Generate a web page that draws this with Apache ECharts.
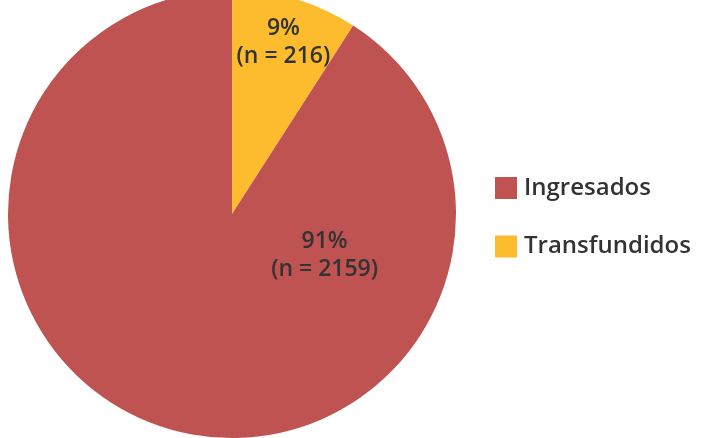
<!DOCTYPE html>
<html><head><meta charset="utf-8">
<script src="https://cdn.jsdelivr.net/npm/echarts@6/dist/echarts.min.js"></script>
<style>html,body{margin:0;padding:0;background:#fff}#c{width:702px;height:438px}</style>
</head><body><div id="c"></div>
<script>
const categories = ['Transfundidos', 'Ingresados'];
const counts = [216, 2159];
const percents = ['9%', '91%'];
const legendOrder = ['Ingresados', 'Transfundidos'];
const colors = ['#FDBC2E', '#BF5352'];

const chart = echarts.init(document.getElementById('c'));
const font = '"Open Sans", sans-serif';
const labelShift = [[19, -61], [125, -69]];
chart.setOption({
  animation: false,
  legend: {
    data: legendOrder,
    orient: 'vertical',
    left: 490, top: 171,
    itemWidth: 22, itemHeight: 22, itemGap: 34.5,
    icon: 'rect',
    textStyle: { fontSize: 24, lineHeight: 22, color: '#333', fontFamily: font, fontWeight: 600, padding: [0,0,0,2] }
  },
  series: [{
    type: 'pie',
    center: [232, 214],
    radius: [0, 224],
    startAngle: 90,
    clockwise: true,
    data: categories.map((c, i) => ({ name: c, value: counts[i], itemStyle: { color: colors[i] } })),
    label: {
      show: true, position: 'inside',
      formatter: p => percents[p.dataIndex] + '\n(n = ' + counts[p.dataIndex] + ')',
      fontSize: 23, lineHeight: 28, color: '#333', fontFamily: font, fontWeight: 600, align: 'center'
    },
    labelLayout: p => ({ dx: labelShift[p.dataIndex][0], dy: labelShift[p.dataIndex][1] }),
    labelLine: { show: false },
    emphasis: { disabled: true }
  }]
});
</script></body></html>
